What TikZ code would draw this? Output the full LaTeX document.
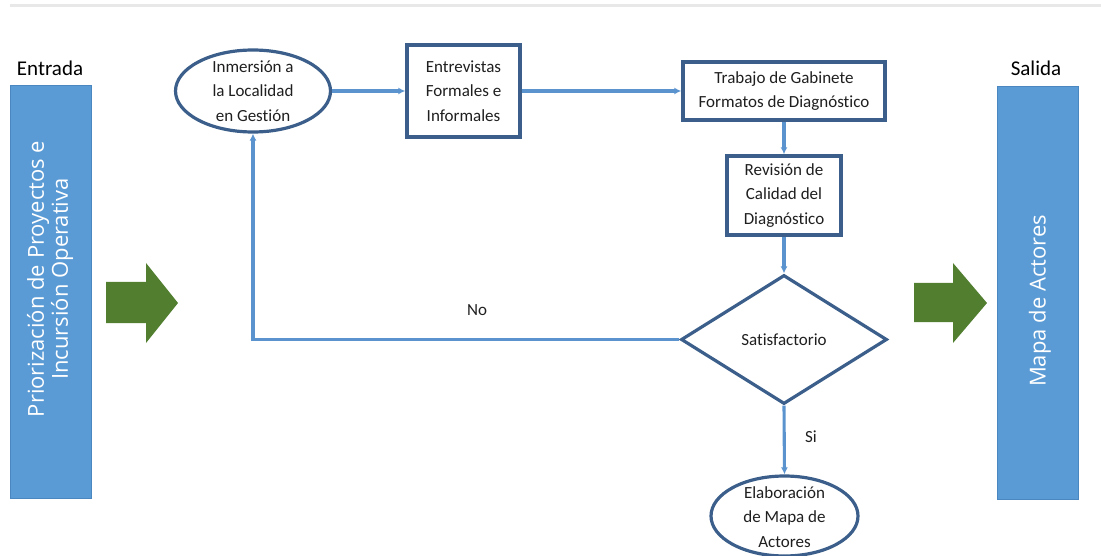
\documentclass[tikz,border=0pt]{standalone}
\usepackage{fontspec}
\setmainfont{Carlito}[Ligatures=NoCommon]
\newfontfamily\barfont{Open Sans}
\usetikzlibrary{shapes.geometric,arrows.meta}

\definecolor{barblue}{HTML}{5B9BD5}
\definecolor{baredge}{HTML}{4A86C0}
\definecolor{linkblue}{HTML}{5B93CF}
\definecolor{edgeblue}{HTML}{3B5F8A}
\definecolor{flowgreen}{HTML}{517E2F}
\definecolor{rulegray}{HTML}{E8E8E8}

\tikzset{
  lbl/.style={font=\fontsize{17}{24.5}\selectfont, align=center, inner sep=0pt, text=black!88},
  stagebox/.style={draw=edgeblue, line width=3.4pt, fill=white, lbl, inner sep=0pt},
  ovalbox/.style={ellipse, draw=edgeblue, line width=3.2pt, fill=white, inner sep=0pt},
  choice/.style={diamond, draw=edgeblue, line width=3.2pt, fill=white, inner sep=0pt, lbl},
  conn/.style={draw=linkblue, line width=3.1pt, -{Latex[length=7pt,width=7pt]}},
  sidebar/.style={fill=barblue, draw=baredge, line width=0.6pt, inner sep=0pt},
  bartext/.style={font=\barfont\fontsize{22}{24}\selectfont, text=white, align=center, rotate=90, inner sep=0pt},
  heading/.style={font=\fontsize{21}{24}\selectfont, inner sep=0pt},
  bigarrow/.style={fill=flowgreen, draw=none}
}

\begin{document}
\begin{tikzpicture}[x=1pt,y=-1pt]
\useasboundingbox (0,0) rectangle (1101,556);

% thin rule along the top
\draw[rulegray, line width=3pt] (10,6) -- (1101,6);

% input and output bars
\node[heading] (inhead) at (50,68) {Entrada};
\node[sidebar, minimum width=81pt, minimum height=413pt] (inbar) at (50.5,291.5) {};
\node[bartext] (intext) at (50,279) {Priorización de Proyectos e\\Incursión Operativa};

\node[heading] (outhead) at (1036,68) {Salida};
\node[sidebar, minimum width=81pt, minimum height=413pt] (outbar) at (1037.5,292.5) {};
\node[bartext] (outtext) at (1040,301) {Mapa de Actores};

% green block arrows
\fill[bigarrow] (106,282) -- (146,282) -- (146,263) -- (178,303) -- (146,343) -- (146,323) -- (106,323) -- cycle;
\fill[bigarrow] (914,283) -- (953,283) -- (953,263) -- (987,303) -- (953,343) -- (953,322) -- (914,322) -- cycle;

% process nodes
\node[ovalbox, minimum width=155pt, minimum height=82pt] (inm) at (253,91) {};
\node[lbl] (inmtext) at (253,91) {Inmersión a\\la Localidad\\en Gestión};

\node[stagebox, minimum width=113pt, minimum height=92pt] (entrev) at (463.5,91) {Entrevistas\\Formales e\\Informales};

\node[stagebox, minimum width=202pt, minimum height=58pt] (trab) at (784,91) {Trabajo de Gabinete\\Formatos de Diagnóstico};

\node[stagebox, minimum width=114pt, minimum height=79pt] (rev) at (784,195.5) {Revisión de\\Calidad del\\Diagnóstico};

\node[choice, minimum width=206pt, minimum height=129pt] (sat) at (784,339.5) {Satisfactorio};

\node[ovalbox, minimum width=147pt, minimum height=80pt] (elab) at (784.5,516) {};
\node[lbl] (elabtext) at (784.5,517) {Elaboración\\de Mapa de\\Actores};

% connectors
\draw[conn] (inm.east) -- (entrev.west);
\draw[conn] (entrev.east) -- (trab.west);
\draw[conn] (trab.south) -- (rev.north);
\draw[conn] (rev.south) -- (sat.north);
\draw[conn] (sat.west) -| (inm.south);
\draw[conn] (sat.south) -- (elab.north);

% branch labels
\node[lbl] (nolbl) at (477,310) {No};
\node[lbl] (silbl) at (811,437) {Si};
\end{tikzpicture}
\end{document}
